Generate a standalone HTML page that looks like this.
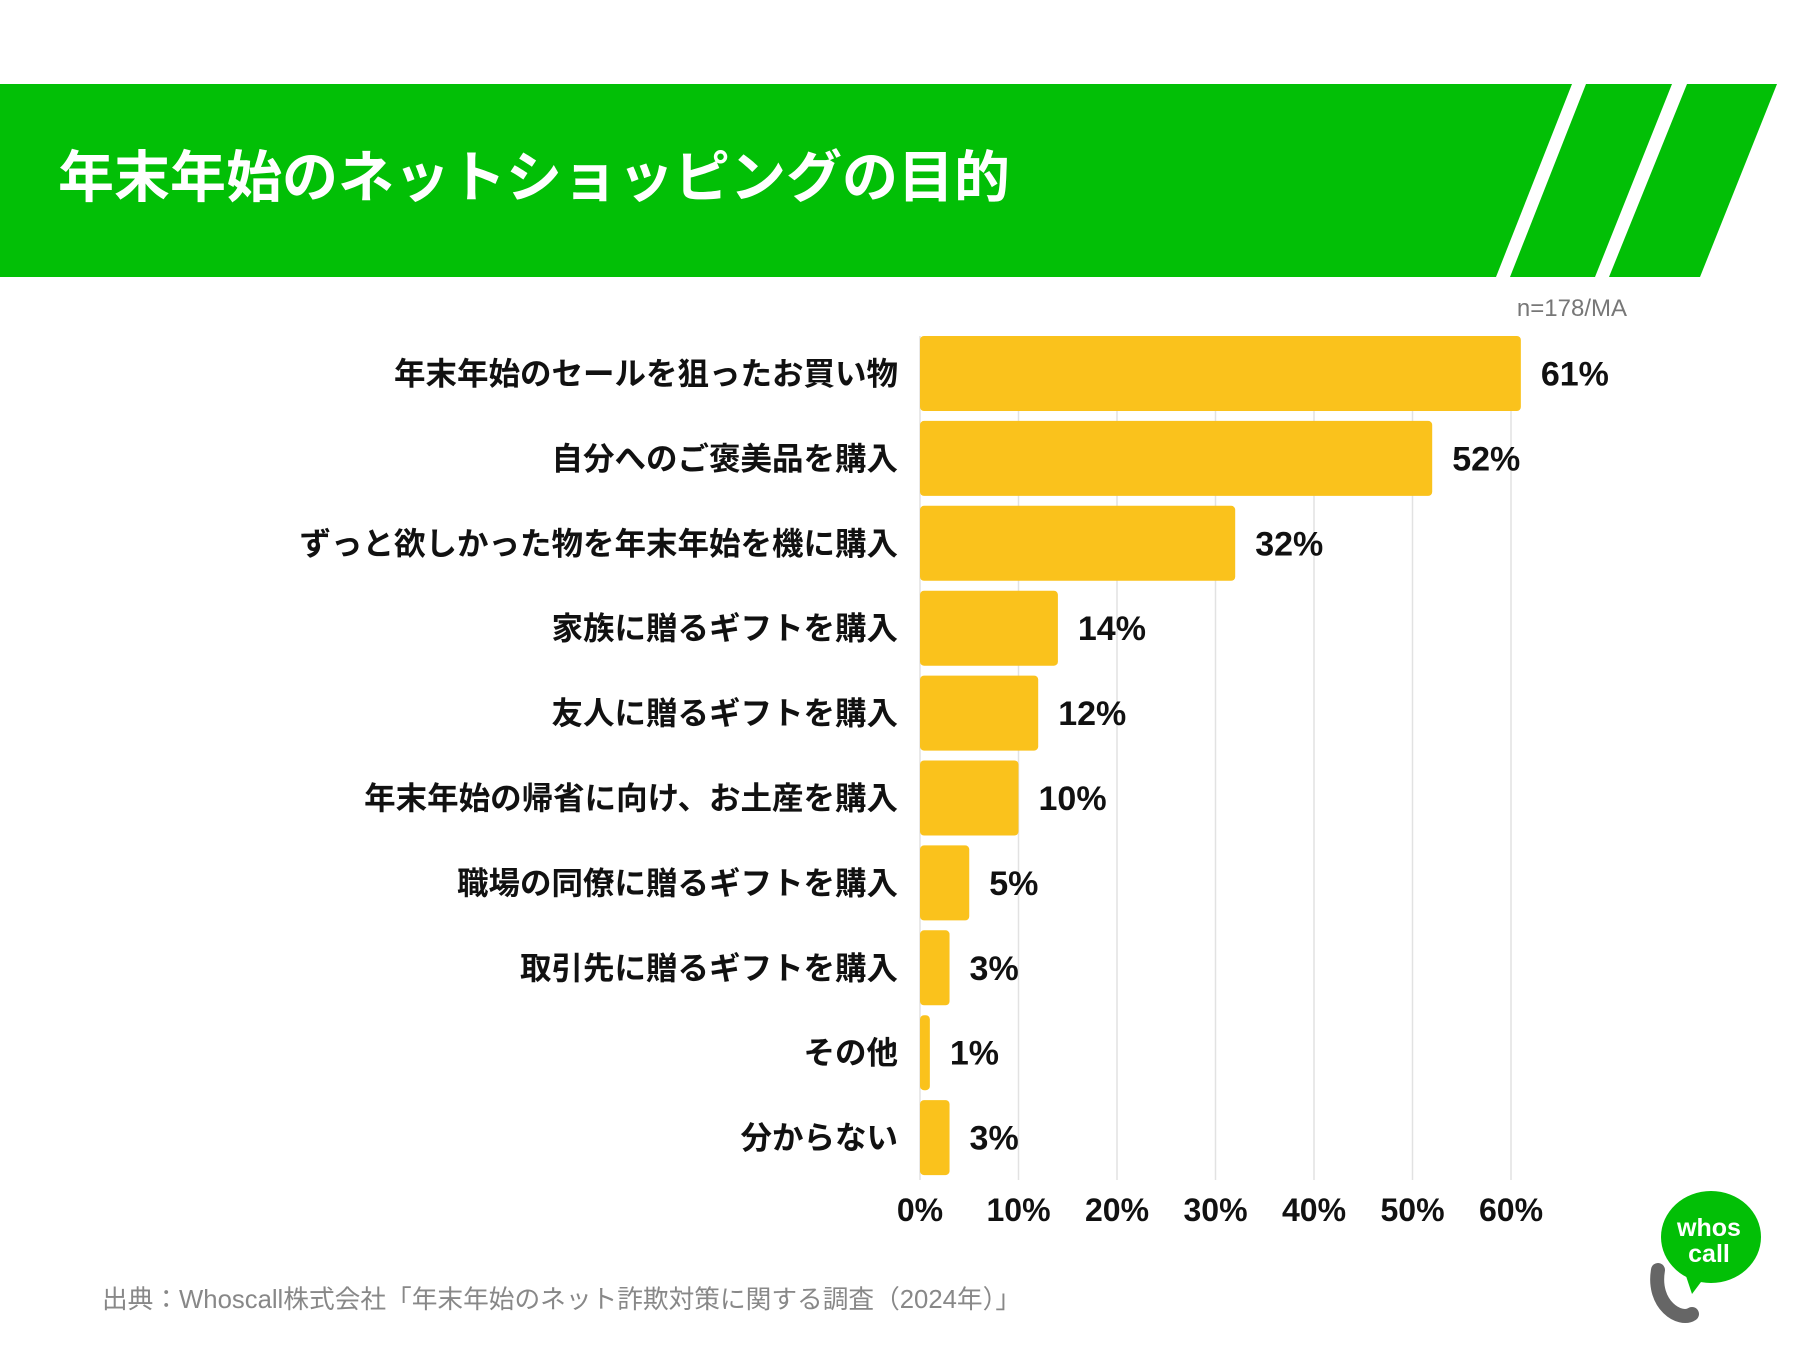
<!DOCTYPE html>
<html><head><meta charset="utf-8"><style>
body{margin:0;width:1800px;height:1350px;background:#fff;overflow:hidden;font-family:"Liberation Sans","Noto Sans CJK JP",sans-serif;}
svg{display:block}
</style></head><body>
<svg id="chart" width="1800" height="1350">
  <g>
    <polygon points="0,84 1572,84 1496,277 0,277" fill="#02BF06"/>
    <polygon points="1586,84 1672,84 1595,277 1510,277" fill="#02BF06"/>
    <polygon points="1687,84 1777,84 1700,277 1609,277" fill="#02BF06"/>
  </g>
  <text x="58" y="197" font-size="56" font-weight="bold" fill="#fff" font-family="Liberation Sans, Noto Sans CJK JP, sans-serif">年末年始のネットショッピングの目的</text>
  <text x="1627" y="316" font-size="24" fill="#777" text-anchor="end" font-family="Liberation Sans, Noto Sans CJK JP, sans-serif">n=178/MA</text>
  <g id="grid"></g>
  <g id="bars"></g>
  <g id="ticks"></g>
  <text x="102" y="1308" font-size="25.7" fill="#888" font-family="Liberation Sans, Noto Sans CJK JP, sans-serif">出典：Whoscall株式会社「年末年始のネット詐欺対策に関する調査（2024年）」</text>
  <g>
    <path d="M1658,1270 C1652,1305 1680,1322 1692,1314" stroke="#666" stroke-width="14" fill="none" stroke-linecap="round"/>
    <ellipse cx="1711" cy="1237" rx="50" ry="46" fill="#02BF06"/>
    <polygon points="1682,1264 1692,1294 1707,1274" fill="#02BF06"/>
    <text x="1709" y="1236" font-size="25" font-weight="bold" fill="#fff" text-anchor="middle" font-family="Liberation Sans, sans-serif">whos</text>
    <text x="1709" y="1262" font-size="25" font-weight="bold" fill="#fff" text-anchor="middle" font-family="Liberation Sans, sans-serif">call</text>
  </g>
</svg>
<script>
const categories=["年末年始のセールを狙ったお買い物","自分へのご褒美品を購入","ずっと欲しかった物を年末年始を機に購入","家族に贈るギフトを購入","友人に贈るギフトを購入","年末年始の帰省に向け、お土産を購入","職場の同僚に贈るギフトを購入","取引先に贈るギフトを購入","その他","分からない"];
const values=[61,52,32,14,12,10,5,3,1,3];
const valueLabels=["61%","52%","32%","14%","12%","10%","5%","3%","1%","3%"];
const ticks=[0,10,20,30,40,50,60];
const tickLabels=["0%","10%","20%","30%","40%","50%","60%"];
const NS="http://www.w3.org/2000/svg";
const x0=920,pxPer=9.85;
const xs=v=>x0+v*pxPer;
const rowTop=336,rowStep=84.9,barH=75;
const ys=i=>rowTop+i*rowStep;
const font='Liberation Sans, Noto Sans CJK JP, sans-serif';
function mk(tag,attrs,parent){const e=document.createElementNS(NS,tag);for(const k in attrs)e.setAttribute(k,attrs[k]);parent.appendChild(e);return e;}
const grid=document.getElementById('grid'),bars=document.getElementById('bars'),tk=document.getElementById('ticks');
ticks.forEach((t,i)=>{
  const l=mk('line',{x1:xs(t),x2:xs(t),y1:rowTop,y2:1180,stroke:'#e2e2e2','stroke-width':1.5},grid);
  
  
  const tx=mk('text',{x:xs(t),y:1221,'font-size':32,'font-weight':'bold','text-anchor':'middle',fill:'#111','font-family':font},tk);
  tx.textContent=tickLabels[i];
  
  
});
categories.forEach((c,i)=>{
  const y=ys(i);
  const r=mk('rect',{x:x0,y:y,width:xs(values[i])-x0,height:barH,rx:4,fill:'#FAC21C'},bars);
  
  
  const lt=mk('text',{x:898,y:y+barH/2+11,'font-size':31.5,'font-weight':'bold','text-anchor':'end',fill:'#111','font-family':font},bars);
  lt.textContent=c;
  
  
  const vt=mk('text',{x:xs(values[i])+20,y:y+barH/2+12,'font-size':34,'font-weight':'bold',fill:'#111','font-family':font},bars);
  vt.textContent=valueLabels[i];
  
  
});
</script>
</body></html>
